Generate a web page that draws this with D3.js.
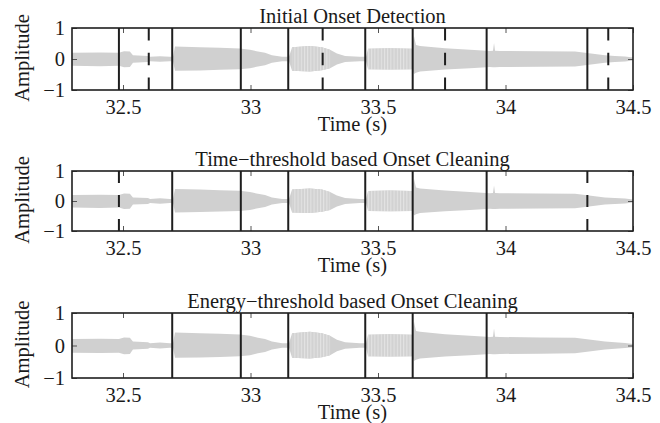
<!DOCTYPE html>
<html>
<head>
<meta charset="utf-8">
<script src="https://cdn.jsdelivr.net/npm/d3@7"></script>
<style>
  body { margin: 0; background: #fff; }
</style>
</head>
<body>
<div id="chart"></div>
<script>
// axis ticks
var xTicks = [32.5, 33, 33.5, 34, 34.5];
var yTicks = [-1, 0, 1];

var titles = ["Initial Onset Detection",
              "Time\u2212threshold based Onset Cleaning",
              "Energy\u2212threshold based Onset Cleaning"];

// waveform envelope, seconds / amplitude
var envTime  = [32.300, 32.410, 32.484, 32.504, 32.527, 32.539, 32.598, 32.606, 32.645, 32.684, 32.696,
                32.704, 32.802, 32.880, 32.958, 32.998, 33.029, 33.057, 33.084, 33.124, 33.151,
                33.163, 33.233, 33.280, 33.312, 33.339, 33.371, 33.429, 33.453,
                33.461, 33.547, 33.633, 33.641, 33.649, 33.665, 33.763, 33.861, 33.924,
                33.939, 33.951, 33.955, 33.959, 33.978, 34.135, 34.273, 34.312, 34.351, 34.390, 34.429, 34.469, 34.500];
var envUpper = [0.20, 0.21, 0.20, 0.25, 0.24, 0.12, 0.10, 0.07, 0.09, 0.07, 0.07,
                0.40, 0.38, 0.36, 0.34, 0.30, 0.24, 0.20, 0.12, 0.07, 0.07,
                0.38, 0.42, 0.38, 0.30, 0.18, 0.10, 0.07, 0.07,
                0.33, 0.35, 0.33, 0.74, 0.45, 0.42, 0.35, 0.30, 0.27,
                0.26, 0.27, 0.52, 0.27, 0.26, 0.25, 0.24, 0.20, 0.16, 0.12, 0.10, 0.08, 0.05];
var envLower = [-0.22, -0.23, -0.22, -0.27, -0.26, -0.12, -0.10, -0.07, -0.09, -0.07, -0.07,
                -0.38, -0.37, -0.35, -0.33, -0.30, -0.24, -0.20, -0.12, -0.07, -0.07,
                -0.38, -0.40, -0.36, -0.30, -0.18, -0.10, -0.07, -0.07,
                -0.33, -0.34, -0.33, -0.48, -0.44, -0.40, -0.34, -0.30, -0.27,
                -0.26, -0.27, -0.27, -0.27, -0.26, -0.25, -0.24, -0.20, -0.16, -0.12, -0.10, -0.08, -0.05];

// notes whose waveform shows a visible striped texture (start, end in s)
var stripedStart = [33.163, 33.461];
var stripedEnd   = [33.320, 33.633];

// onset markers per panel
var initialSolid  = [32.484, 32.693, 32.962, 33.148, 33.450, 33.636, 33.926, 34.321];
var initialDashed = [32.601, 33.283, 33.763, 34.403];
var timeSolid     = [32.693, 32.962, 33.148, 33.450, 33.636, 33.926];
var timeDashed    = [32.484, 34.321];
var energySolid   = [32.693, 32.962, 33.148, 33.450, 33.636, 33.926];
var energyDashed  = [];

var solids  = [initialSolid, timeSolid, energySolid];
var dasheds = [initialDashed, timeDashed, energyDashed];

var width = 660, height = 423;
var left = 72, right = 633;
var fontFam = "'Liberation Serif', 'Times New Roman', serif";
var fs = "20.5px";
var panels = [{top: 28, bottom: 90}, {top: 171, bottom: 231}, {top: 313, bottom: 378}];

var svg = d3.select("#chart").append("svg")
  .attr("width", width)
  .attr("height", height)
  .attr("font-family", fontFam);

// stripe texture for the plucked notes
var pat = svg.append("defs").append("pattern")
  .attr("id", "stripes")
  .attr("patternUnits", "userSpaceOnUse")
  .attr("width", 3.2).attr("height", 10);
pat.append("rect").attr("width", 3.2).attr("height", 10).attr("fill", "#d2d2d2");
pat.append("rect").attr("width", 1).attr("height", 10).attr("fill", "#e4e4e4");

var x = d3.scaleLinear().domain([32.3, 34.5]).range([left, right]);

var env = envTime.map(function(t, i) { return {t: t, hi: envUpper[i], lo: envLower[i]}; });

panels.forEach(function(p, k) {
  var y = d3.scaleLinear().domain([-1, 1]).range([p.bottom, p.top]);
  var g = svg.append("g");

  // waveform
  var area = d3.area()
    .x(function(d) { return x(d.t); })
    .y0(function(d) { return y(d.lo); })
    .y1(function(d) { return y(d.hi); });
  g.append("path")
    .datum(env)
    .attr("d", area)
    .attr("fill", "#d0d0d0");

  stripedStart.forEach(function(s, i) {
    var seg = env.filter(function(d) { return d.t >= s && d.t <= stripedEnd[i]; });
    g.append("path")
      .datum(seg)
      .attr("d", area)
      .attr("fill", "url(#stripes)");
  });

  // ticks (inward, matlab style)
  var xb = g.append("g").attr("transform", "translate(0," + p.bottom + ")")
    .call(d3.axisBottom(x).tickValues(xTicks).tickSizeInner(-5).tickSizeOuter(0).tickPadding(9)
      .tickFormat(d3.format("")));
  var xt = g.append("g").attr("transform", "translate(0," + p.top + ")")
    .call(d3.axisTop(x).tickValues(xTicks).tickSizeInner(-5).tickSizeOuter(0).tickFormat(""));
  var yl = g.append("g").attr("transform", "translate(" + left + ",0)")
    .call(d3.axisLeft(y).tickValues(yTicks).tickSizeInner(-5).tickSizeOuter(0).tickPadding(7)
      .tickFormat(d3.format("")));
  var yr = g.append("g").attr("transform", "translate(" + right + ",0)")
    .call(d3.axisRight(y).tickValues(yTicks).tickSizeInner(-5).tickSizeOuter(0).tickFormat(""));

  [xb, xt, yl, yr].forEach(function(a) {
    a.attr("font-family", fontFam).attr("font-size", fs);
    a.select(".domain").remove();
    a.selectAll("line").attr("stroke", "#555").attr("stroke-width", 1);
    a.selectAll("text").attr("fill", "#1a1a1a").style("font-family", fontFam);
  });

  // onset lines
  g.selectAll(".solid").data(solids[k]).enter().append("line")
    .attr("x1", function(d) { return x(d); })
    .attr("x2", function(d) { return x(d); })
    .attr("y1", p.top).attr("y2", p.bottom)
    .attr("stroke", "#1e1e1e").attr("stroke-width", 2);

  var dash = (p.bottom - p.top) / 5;
  g.selectAll(".dashed").data(dasheds[k]).enter().append("line")
    .attr("x1", function(d) { return x(d); })
    .attr("x2", function(d) { return x(d); })
    .attr("y1", p.top).attr("y2", p.bottom)
    .attr("stroke", "#1e1e1e").attr("stroke-width", 2)
    .attr("stroke-dasharray", dash + "," + dash);

  // box
  g.append("rect")
    .attr("x", left).attr("y", p.top)
    .attr("width", right - left).attr("height", p.bottom - p.top)
    .attr("fill", "none").attr("stroke", "#1e1e1e").attr("stroke-width", 1.6);

  // title and labels
  g.append("text")
    .attr("x", (left + right) / 2).attr("y", p.top - 5)
    .attr("text-anchor", "middle").attr("font-size", fs).attr("fill", "#1a1a1a")
    .text(titles[k]);
  g.append("text")
    .attr("x", (left + right) / 2).attr("y", p.bottom + 41)
    .attr("text-anchor", "middle").attr("font-size", fs).attr("fill", "#1a1a1a")
    .text("Time (s)");
  g.append("text")
    .attr("transform", "translate(" + 29 + "," + ((p.top + p.bottom) / 2 - 1) + ") rotate(-90)")
    .attr("text-anchor", "middle").attr("font-size", fs).attr("fill", "#1a1a1a")
    .text("Amplitude");
});
</script>
</body>
</html>
